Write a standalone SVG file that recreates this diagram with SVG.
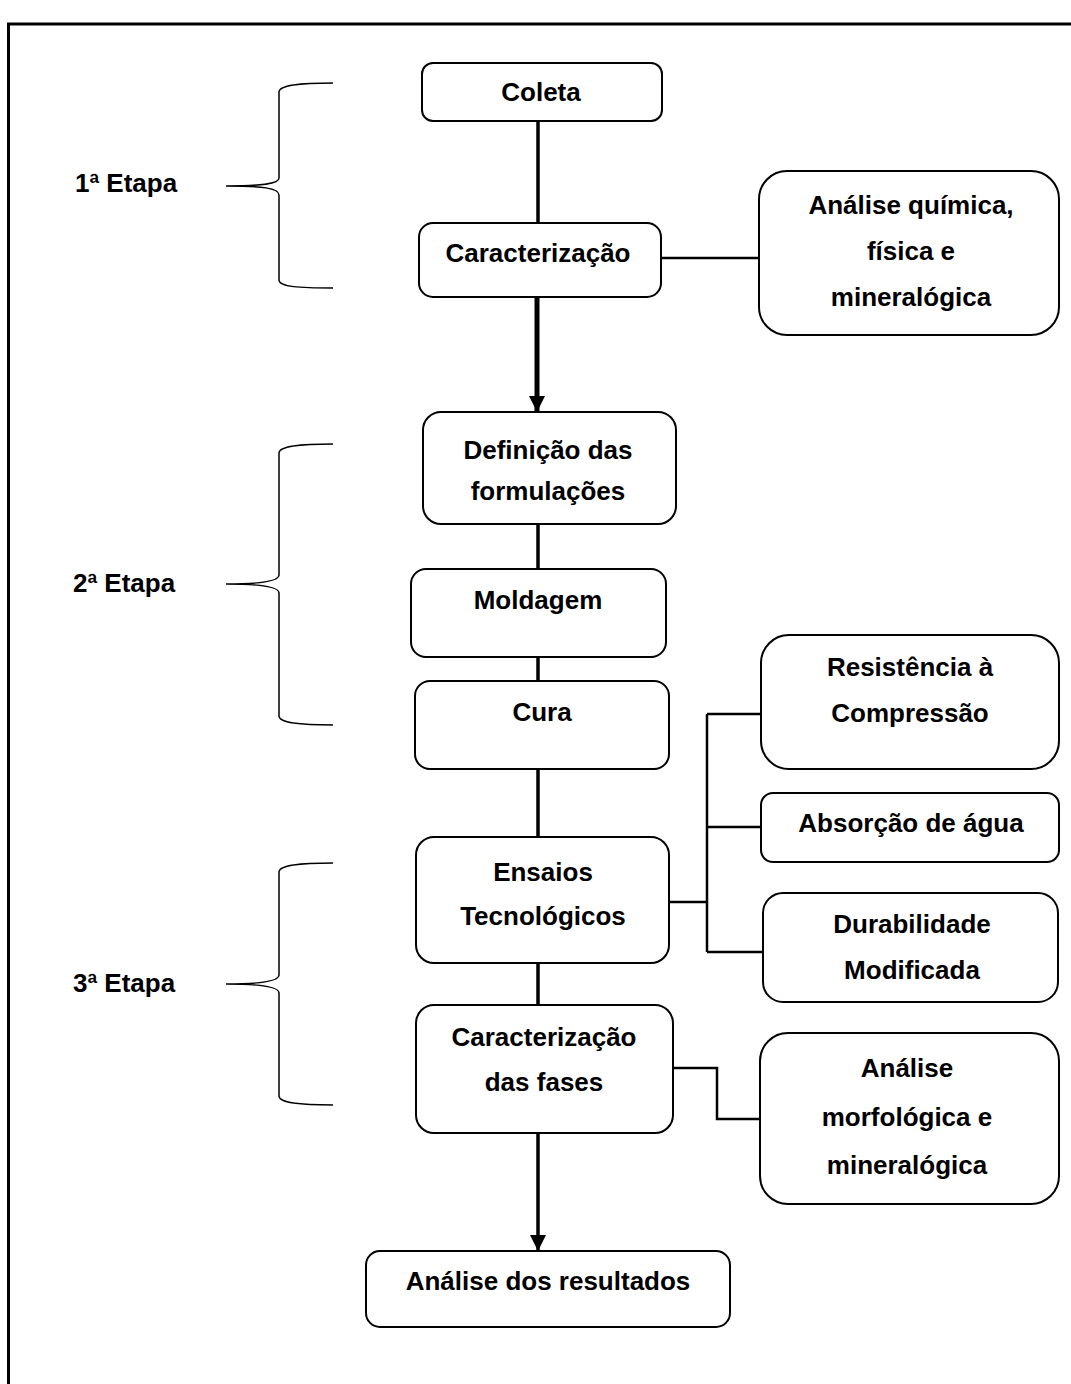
<svg xmlns="http://www.w3.org/2000/svg" width="1071" height="1384" viewBox="0 0 1071 1384">
<defs>
<style>
.box{fill:#fff;stroke:#000;stroke-width:2}
.t{font-family:"Liberation Sans",Arial,Helvetica,sans-serif;font-weight:bold;font-size:26px;fill:#000;text-anchor:middle}
.lbl{font-family:"Liberation Sans",Arial,Helvetica,sans-serif;font-weight:bold;font-size:26px;fill:#000}
.brace{fill:none;stroke:#000;stroke-width:1.5}
.c{fill:none;stroke:#000;stroke-width:2.5}
.main{fill:none;stroke:#000;stroke-width:3.5}
.thick{fill:none;stroke:#000;stroke-width:5}
</style>
<marker id="ah" markerWidth="16" markerHeight="16" viewBox="0 0 16 16" refX="16" refY="8" orient="auto" markerUnits="userSpaceOnUse">
<path d="M0,0 L16,8 L0,16 Z" fill="#000"/>
</marker>
</defs>
<rect width="1071" height="1384" fill="#fff"/>
<path d="M8.5,1384 V24 H1071" fill="none" stroke="#000" stroke-width="3"/>

<g id="braces">
<path class="brace" d="M333,83 C300,83 279,85 279,92 V178 C279,184 262,186 226,186 C262,186 279,188 279,195 V280 C279,287 300,288 333,288"/>
<path class="brace" d="M333,444 C300,444 279,446 279,453 V575 C279,581 262,584 226,584 C262,584 279,587 279,593 V716 C279,723 300,725 333,725"/>
<path class="brace" d="M333,863 C300,863 279,865 279,872 V975 C279,981 262,984 226,984 C262,984 279,987 279,993 V1096 C279,1103 300,1105 333,1105"/>
</g>
<g id="labels">
<text class="lbl" x="75" y="192">1ª Etapa</text>
<text class="lbl" x="73" y="592">2ª Etapa</text>
<text class="lbl" x="73" y="992">3ª Etapa</text>
</g>

<g id="connectors">
<line class="main" x1="538" y1="121" x2="538" y2="223"/>
<line class="thick" x1="537" y1="297" x2="537" y2="412" marker-end="url(#ah)"/>
<line class="main" x1="538" y1="524" x2="538" y2="569"/>
<line class="main" x1="538" y1="657" x2="538" y2="681"/>
<line class="main" x1="538" y1="769" x2="538" y2="837"/>
<line class="main" x1="538" y1="963" x2="538" y2="1005"/>
<line class="main" x1="538" y1="1133" x2="538" y2="1251" marker-end="url(#ah)"/>
<line class="c" x1="661" y1="258" x2="759" y2="258"/>
<path class="c" d="M669,902 H707 M707,714 V952 M707,714 H761 M707,827 H761 M707,952 H763"/>
<path class="c" d="M673,1068 H717 V1119 H760"/>
</g>

<g id="coleta"><rect class="box" x="422" y="63" width="240" height="58" rx="11"/><text class="t" x="541" y="101">Coleta</text></g>
<g id="caracterizacao"><rect class="box" x="419" y="223" width="242" height="74" rx="14"/><text class="t" x="538" y="262">Caracterização</text></g>
<g id="analise-quimica"><rect class="box" x="759" y="171" width="300" height="164" rx="28"/><text class="t" x="911" y="214">Análise química,</text><text class="t" x="911" y="260">física e</text><text class="t" x="911" y="306">mineralógica</text></g>
<g id="definicao"><rect class="box" x="423" y="412" width="253" height="112" rx="18"/><text class="t" x="548" y="459">Definição das</text><text class="t" x="548" y="500">formulações</text></g>
<g id="moldagem"><rect class="box" x="411" y="569" width="255" height="88" rx="15"/><text class="t" x="538" y="609">Moldagem</text></g>
<g id="cura"><rect class="box" x="415" y="681" width="254" height="88" rx="15"/><text class="t" x="542" y="721">Cura</text></g>
<g id="resistencia"><rect class="box" x="761" y="635" width="298" height="134" rx="28"/><text class="t" x="910" y="676">Resistência à</text><text class="t" x="910" y="722">Compressão</text></g>
<g id="absorcao"><rect class="box" x="761" y="793" width="298" height="69" rx="12"/><text class="t" x="911" y="832">Absorção de água</text></g>
<g id="ensaios"><rect class="box" x="416" y="837" width="253" height="126" rx="18"/><text class="t" x="543" y="881">Ensaios</text><text class="t" x="543" y="925">Tecnológicos</text></g>
<g id="durabilidade"><rect class="box" x="763" y="893" width="295" height="109" rx="20"/><text class="t" x="912" y="933">Durabilidade</text><text class="t" x="912" y="979">Modificada</text></g>
<g id="caracterizacao-fases"><rect class="box" x="416" y="1005" width="257" height="128" rx="18"/><text class="t" x="544" y="1046">Caracterização</text><text class="t" x="544" y="1091">das fases</text></g>
<g id="analise-morfologica"><rect class="box" x="760" y="1033" width="299" height="171" rx="28"/><text class="t" x="907" y="1077">Análise</text><text class="t" x="907" y="1126">morfológica e</text><text class="t" x="907" y="1174">mineralógica</text></g>
<g id="analise-resultados"><rect class="box" x="366" y="1251" width="364" height="76" rx="14"/><text class="t" x="548" y="1290">Análise dos resultados</text></g>
</svg>
